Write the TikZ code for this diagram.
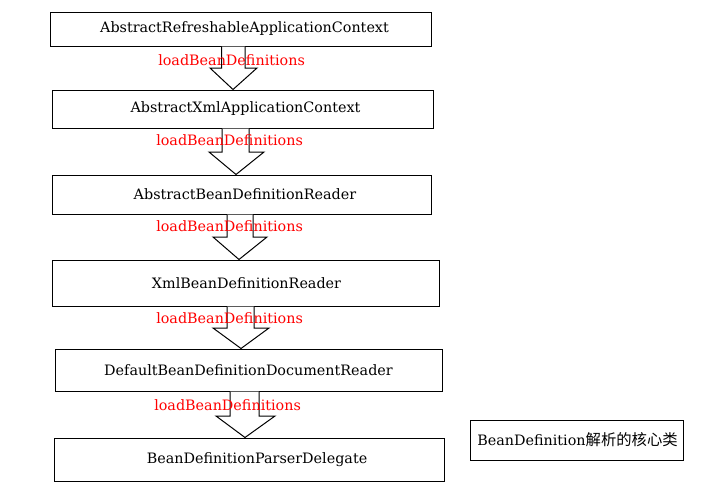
\documentclass[tikz,border=0pt]{standalone}
\usepackage{fontspec}
\setmainfont{DejaVu Serif}
\newfontfamily\cjk{Noto Sans CJK SC}
\usetikzlibrary{calc}
\definecolor{lblred}{RGB}{255,0,0}
\tikzset{
  box/.style={draw=black, line width=0.75pt, fill=white, inner sep=0pt,
    font=\fontsize{10.75pt}{13pt}\selectfont},
  barrow/.style={draw=black, line width=0.75pt, fill=white},
  lbl/.style={text=lblred, inner sep=0pt, anchor=west,
    font=\fontsize{10.75pt}{13pt}\selectfont}
}
% shift text inside a box: #1 horizontal double-offset, #2 text
\newcommand{\boxtxt}[2]{\hspace*{#1}\raisebox{-1.1pt}{#2}}
% #1 from node, #2 to node, #3 shaft left, #4 shaft right, #5 head left, #6 head right, #7 head y, #8 tip x
\newcommand{\blockarr}[8]{%
  \draw[barrow] (#3,0 |- #1.south) -- (#3,#7) -- (#5,#7) -- (#8,0 |- #2.north)
    -- (#6,#7) -- (#4,#7) -- (#4,0 |- #1.south);
}
\begin{document}
\begin{tikzpicture}[x=0.75pt,y=-0.75pt]
\useasboundingbox (0,0) rectangle (708,497);
\node[box, minimum width=381*0.75pt, minimum height=34*0.75pt] (b1) at (240.5,29) {\boxtxt{6pt}{AbstractRefreshableApplicationContext}};
\node[box, minimum width=381*0.75pt, minimum height=38*0.75pt] (b2) at (242.5,109) {\boxtxt{4.5pt}{AbstractXmlApplicationContext}};
\node[box, minimum width=379*0.75pt, minimum height=39*0.75pt] (b3) at (241.5,194.5) {\boxtxt{5.25pt}{AbstractBeanDefinitionReader}};
\node[box, minimum width=387*0.75pt, minimum height=46*0.75pt] (b4) at (245.5,283) {\boxtxt{1.5pt}{XmlBeanDefinitionReader}};
\node[box, minimum width=387*0.75pt, minimum height=42*0.75pt] (b5) at (248.5,370) {\boxtxt{0pt}{DefaultBeanDefinitionDocumentReader}};
\node[box, minimum width=390*0.75pt, minimum height=43*0.75pt] (b6) at (249,459.5) {\boxtxt{12pt}{BeanDefinitionParserDelegate}};
\node[box, minimum width=213*0.75pt, minimum height=40*0.75pt] (side) at (576.5,440) {\boxtxt{1.5pt}{BeanDefinition{\cjk\fontsize{11.5pt}{13pt}\selectfont 解析的核心类}}};

\blockarr{b1}{b2}{221.5}{245}{210}{257}{68}{233}
\blockarr{b2}{b3}{222}{249}{209}{264}{152}{236}
\blockarr{b3}{b4}{227}{253}{213}{267}{237}{239}
\blockarr{b4}{b5}{227}{254}{213}{269}{328}{241}
\blockarr{b5}{b6}{230}{259}{216}{275}{416}{245}

\node[lbl] (l1) at (158,60) {loadBeanDefinitions};
\node[lbl] (l2) at (156,140) {loadBeanDefinitions};
\node[lbl] (l3) at (156,226) {loadBeanDefinitions};
\node[lbl] (l4) at (156,318) {loadBeanDefinitions};
\node[lbl] (l5) at (154,405) {loadBeanDefinitions};
\end{tikzpicture}
\end{document}
